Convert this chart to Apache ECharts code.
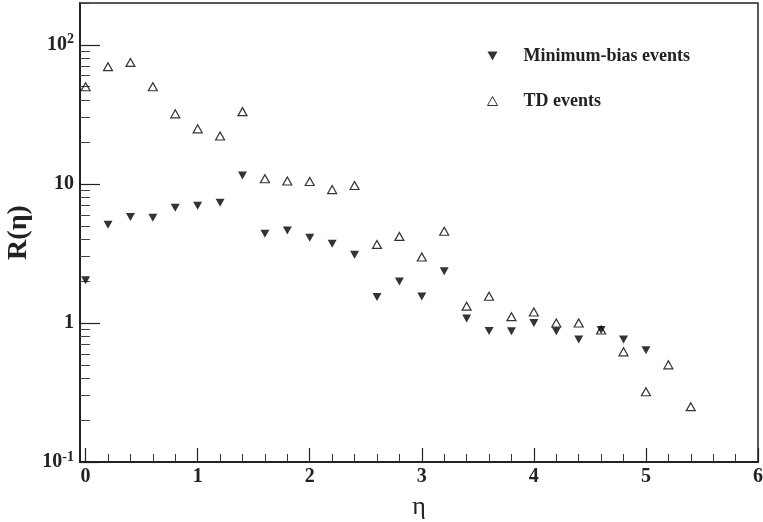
<!DOCTYPE html>
<html>
<head>
<meta charset="utf-8">
<script src="https://cdn.jsdelivr.net/npm/echarts@6/dist/echarts.min.js"></script>
<style>
  html, body { margin: 0; padding: 0; background: #fff; }
  #main { width: 763px; height: 522px; }
</style>
</head>
<body>
<div id="main"></div>
<script>
var etaMB = [0, 0.2, 0.4, 0.6, 0.8, 1.0, 1.2, 1.4, 1.6, 1.8, 2.0, 2.2, 2.4, 2.6, 2.8, 3.0, 3.2, 3.4, 3.6, 3.8, 4.0, 4.2, 4.4, 4.6, 4.8, 5.0];
var minBias = [2.03, 5.09, 5.77, 5.71, 6.74, 6.96, 7.32, 11.5, 4.38, 4.63, 4.10, 3.71, 3.10, 1.54, 1.99, 1.55, 2.35, 1.075, 0.876, 0.872, 1.0, 0.87, 0.76, 0.89, 0.76, 0.637];

var etaTD = [0, 0.2, 0.4, 0.6, 0.8, 1.0, 1.2, 1.4, 1.6, 1.8, 2.0, 2.2, 2.4, 2.6, 2.8, 3.0, 3.2, 3.4, 3.6, 3.8, 4.0, 4.2, 4.4, 4.6, 4.8, 5.0, 5.2, 5.4];
var tdEvents = [50, 69.7, 74.8, 50, 31.9, 24.9, 22.1, 33.1, 10.9, 10.5, 10.4, 9.1, 9.74, 3.67, 4.19, 2.98, 4.57, 1.32, 1.555, 1.11, 1.20, 1.0, 1.0, 0.89, 0.62, 0.32, 0.50, 0.25];

var xTicks = [0, 1, 2, 3, 4, 5, 6];
var xMinorTicks = [0.2, 0.4, 0.6, 0.8, 1.2, 1.4, 1.6, 1.8, 2.2, 2.4, 2.6, 2.8, 3.2, 3.4, 3.6, 3.8, 4.2, 4.4, 4.6, 4.8, 5.2, 5.4, 5.6, 5.8];
var yTicks = [0.1, 1, 10, 100];
var yMinorTicks = [0.2, 0.3, 0.4, 0.5, 0.6, 0.7, 0.8, 0.9, 2, 3, 4, 5, 6, 7, 8, 9, 20, 30, 40, 50, 60, 70, 80, 90, 200];

function pairs(xs, ys) {
  return xs.map(function (x, i) { return [x, ys[i]]; });
}

var font = 'Liberation Serif';
var downTriangle = 'path://M0,0L10,0L5,9Z';

var chart = echarts.init(document.getElementById('main'));

var option = {
  animation: false,
  backgroundColor: '#fff',
  textStyle: { fontFamily: font },
  grid: {
    left: 80, right: 5, top: 3, bottom: 60,
    outerBoundsMode: 'none',
    containLabel: false,
    show: true, borderColor: '#222', borderWidth: 1.5
  },
  legend: {
    orient: 'vertical',
    left: 482,
    top: 42,
    itemWidth: 10,
    itemHeight: 9,
    itemGap: 27,
    textStyle: {
      fontFamily: font, fontWeight: 'bold', fontSize: 18, color: '#222',
      padding: [0, 0, 0, 21]
    },
    data: [
      { name: 'Minimum-bias events', icon: downTriangle },
      { name: 'TD events', itemStyle: { borderWidth: 1 } }
    ]
  },
  xAxis: [{
    type: 'value',
    min: -0.05,
    max: 6,
    name: 'η',
    nameLocation: 'middle',
    nameGap: 32,
    nameTextStyle: { fontFamily: font, fontSize: 26, color: '#222' },
    axisLine: { lineStyle: { color: '#222', width: 2 } },
    axisTick: { inside: true, length: 14, customValues: xTicks, lineStyle: { color: '#222', width: 1.2 } },
    axisLabel: {
      customValues: xTicks, margin: 5,
      fontFamily: font, fontWeight: 'bold', fontSize: 20, color: '#222'
    },
    splitLine: { show: false }
  }, {
    type: 'value',
    min: -0.05,
    max: 6,
    position: 'bottom',
    axisLine: { show: false },
    axisTick: { inside: true, length: 8, customValues: xMinorTicks, lineStyle: { color: '#333', width: 1 } },
    axisLabel: { show: false },
    splitLine: { show: false }
  }],
  yAxis: [{
    type: 'log',
    logBase: 10,
    min: 0.1,
    max: 200,
    position: 'left',
    name: 'R(η)',
    nameLocation: 'middle',
    nameGap: 47,
    nameMoveOverlap: false,
    nameRotate: 90,
    nameTextStyle: { fontFamily: font, fontWeight: 'bold', fontSize: 28, color: '#222' },
    axisLine: { show: true, onZero: false, lineStyle: { color: '#222', width: 2 } },
    axisTick: { show: true, inside: true, length: 20, customValues: yTicks, lineStyle: { color: '#222', width: 1.2 } },
    axisLabel: {
      customValues: yTicks,
      margin: 6,
      formatter: function (v) {
        var p = Math.round(Math.log10(v));
        if (p === 0) return '{b|1}';
        if (p === 1) return '{b|10}';
        return '{b|10}{s|' + p + '}';
      },
      rich: {
        b: { fontFamily: font, fontWeight: 'bold', fontSize: 20, color: '#222' },
        s: { fontFamily: font, fontWeight: 'bold', fontSize: 14, color: '#222', padding: [0, 0, 10, 0] }
      }
    },
    splitLine: { show: false }
  }, {
    type: 'log',
    logBase: 10,
    min: 0.1,
    max: 200,
    position: 'left',
    axisLine: { show: false, onZero: false },
    axisTick: { show: true, inside: true, length: 10, customValues: yMinorTicks, lineStyle: { color: '#444', width: 1 } },
    axisLabel: { show: false },
    splitLine: { show: false }
  }],
  series: [{
    name: 'Minimum-bias events',
    type: 'scatter',
    symbol: 'triangle',
    symbolRotate: 180,
    symbolSize: [9, 8],
    itemStyle: { color: '#000' },
    data: pairs(etaMB, minBias)
  }, {
    name: 'TD events',
    type: 'scatter',
    symbol: 'triangle',
    symbolSize: [9, 8],
    itemStyle: { color: 'rgba(255,255,255,0)', borderColor: '#000', borderWidth: 1.2 },
    data: pairs(etaTD, tdEvents)
  }]
};

chart.setOption(option);
</script>
</body>
</html>
